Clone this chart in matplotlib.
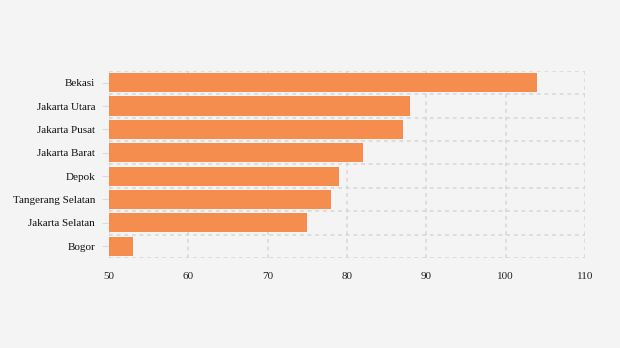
import matplotlib
matplotlib.use("Agg")
import matplotlib.pyplot as plt
import numpy as np

cities = ["Bekasi", "Jakarta Utara", "Jakarta Pusat", "Jakarta Barat", "Depok",
          "Tangerang Selatan", "Jakarta Selatan", "Bogor"]
values = [104, 88, 87, 82, 79, 78, 75, 53]
x_ticks = [50, 60, 70, 80, 90, 100, 110]

plt.rcParams["font.family"] = ["Liberation Serif", "DejaVu Serif"]

bg = "#f4f4f4"
fig = plt.figure(figsize=(6.2, 3.48), dpi=100, facecolor=bg)
ax = fig.add_axes([0.176, 0.259, 0.7675, 0.537], facecolor=bg)

y = np.arange(len(cities))
ax.barh(y, [v - 50 for v in values], left=50, height=0.82, color="#f58d4f", zorder=2)

ax.set_xlim(50, 110)
ax.set_ylim(len(cities) - 0.5, -0.5)
ax.set_xticks(x_ticks)
ax.set_xticklabels([str(t) for t in x_ticks])
ax.set_yticks(y)
ax.set_yticklabels(cities)
ax.set_yticks(np.arange(-0.5, len(cities)), minor=True)

grid_kw = dict(color="#d6d6d6", linestyle=(0, (2.5, 2.5)), linewidth=1.1, zorder=0)
ax.grid(axis="x", which="major", **grid_kw)
ax.grid(axis="y", which="minor", **grid_kw)
ax.grid(axis="y", which="major", visible=False)

for s in ax.spines.values():
    s.set_visible(False)

ax.tick_params(axis="x", which="both", length=0, pad=10, labelsize=8, labelcolor="#222222")
ax.tick_params(axis="y", which="major", length=5, color="#dddddd", pad=5, labelsize=8,
               labelcolor="#111111")
ax.tick_params(axis="y", which="minor", length=0)

fig.savefig("out.png", dpi=100, facecolor=bg)
